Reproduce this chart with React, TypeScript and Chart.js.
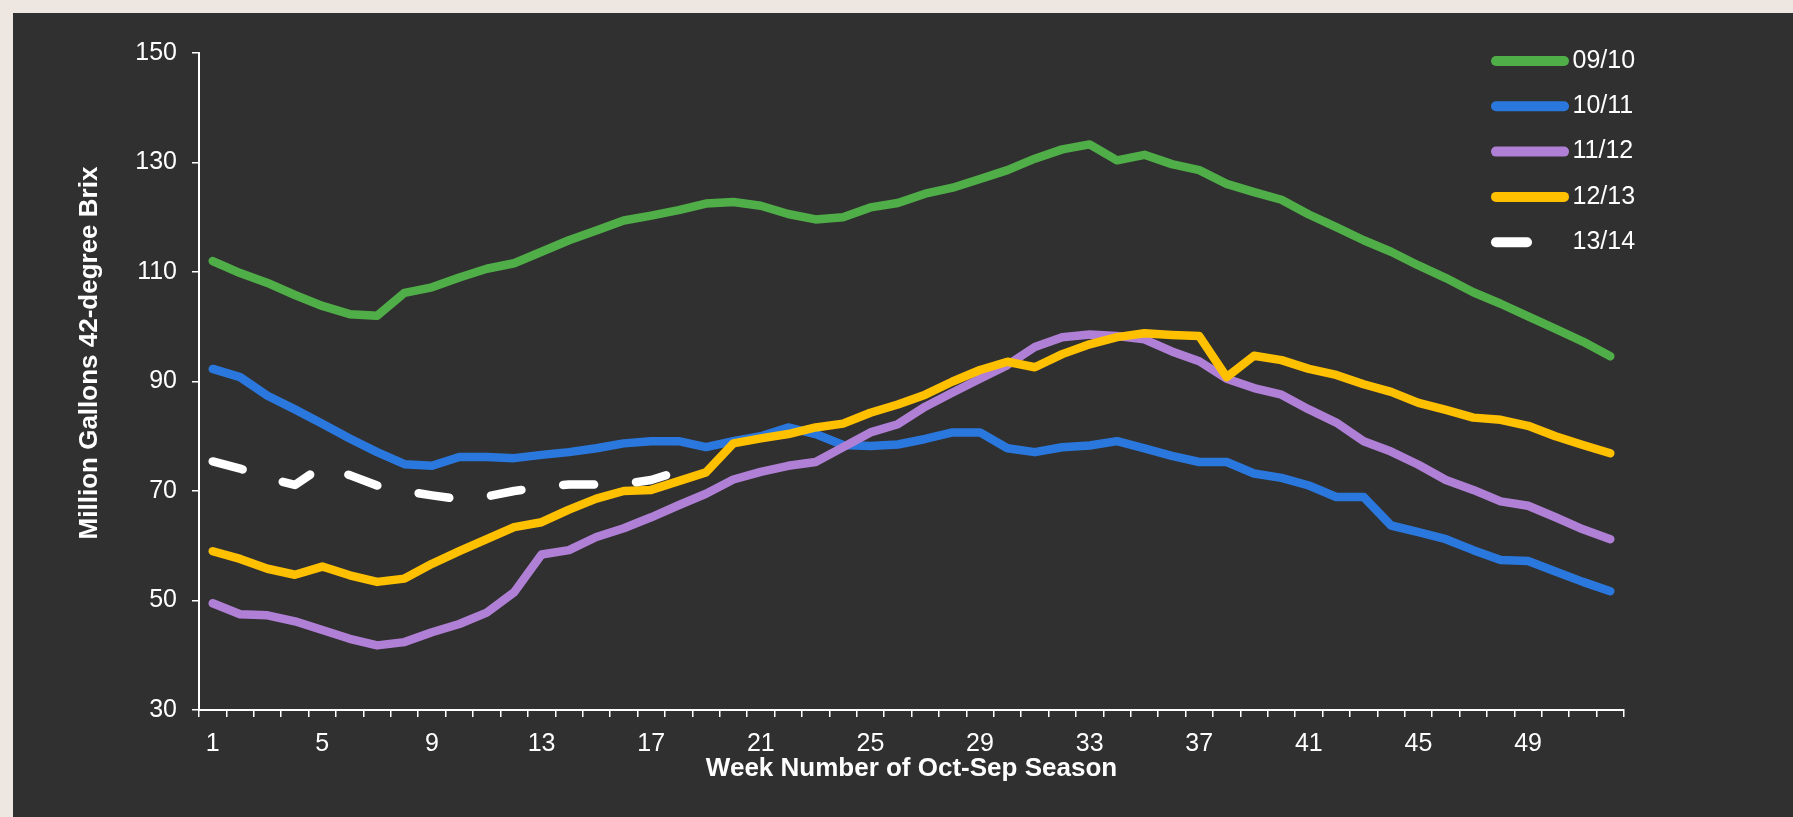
import React, { useEffect, useRef } from 'react';
import { Chart, registerables } from 'chart.js';

Chart.register(...registerables);
Chart.defaults.font.family = "'Liberation Sans', Arial, sans-serif";

// ---- data ----
const weeks = [
  '1', '2', '3', '4', '5', '6', '7', '8', '9', '10', '11', '12', '13',
  '14', '15', '16', '17', '18', '19', '20', '21', '22', '23', '24', '25', '26',
  '27', '28', '29', '30', '31', '32', '33', '34', '35', '36', '37', '38', '39',
  '40', '41', '42', '43', '44', '45', '46', '47', '48', '49', '50', '51', '52',
];
const shownWeekLabels = ['1', '5', '9', '13', '17', '21', '25', '29', '33', '37', '41', '45', '49'];
const yMin = 30;
const yMax = 150;
const yStep = 20;

const seriesNames = ['09/10', '10/11', '11/12', '12/13', '13/14'];
const seriesColors = ['#50AE48', '#2A78DE', '#B07FD6', '#FFC000', '#FFFFFF'];

const s0910 = [
  112.0, 109.8, 108.0, 105.8, 103.8, 102.3, 102.0, 106.2, 107.2, 109.0, 110.6, 111.6, 113.7,
  115.8, 117.6, 119.4, 120.3, 121.3, 122.5, 122.8, 122.1, 120.6, 119.6, 120.0, 121.8, 122.6,
  124.3, 125.4, 127.0, 128.6, 130.7, 132.4, 133.3, 130.4, 131.4, 129.7, 128.6, 126.1, 124.6,
  123.2, 120.5, 118.2, 115.8, 113.7, 111.2, 108.9, 106.3, 104.2, 101.9, 99.6, 97.3, 94.6,
];
const s1011 = [
  92.3, 90.8, 87.4, 84.9, 82.3, 79.6, 77.1, 74.9, 74.6, 76.2, 76.2, 76.0, 76.6,
  77.1, 77.8, 78.7, 79.1, 79.1, 78.0, 79.1, 80.0, 81.6, 80.4, 78.4, 78.2, 78.5,
  79.5, 80.7, 80.7, 77.8, 77.1, 78.0, 78.3, 79.1, 77.8, 76.4, 75.3, 75.3, 73.2,
  72.4, 71.0, 68.9, 68.9, 63.7, 62.5, 61.2, 59.2, 57.4, 57.2, 55.3, 53.4, 51.7,
];
const s1112 = [
  49.5, 47.5, 47.3, 46.2, 44.6, 43.0, 41.8, 42.4, 44.2, 45.7, 47.8, 51.5, 58.4,
  59.2, 61.6, 63.2, 65.2, 67.4, 69.5, 72.1, 73.5, 74.6, 75.3, 78.0, 80.7, 82.2,
  85.4, 88.0, 90.5, 93.0, 96.3, 98.1, 98.6, 98.3, 97.7, 95.5, 93.7, 90.5, 88.8,
  87.6, 84.9, 82.5, 79.1, 77.2, 74.8, 72.0, 70.2, 68.1, 67.3, 65.2, 63.0, 61.2,
];
const s1213 = [
  59.0, 57.6, 55.8, 54.7, 56.2, 54.6, 53.4, 54.0, 56.7, 59.0, 61.2, 63.4, 64.3,
  66.6, 68.6, 70.0, 70.2, 71.8, 73.4, 78.7, 79.6, 80.4, 81.6, 82.3, 84.3, 85.8,
  87.6, 90.0, 92.1, 93.6, 92.6, 95.0, 96.8, 98.1, 98.8, 98.5, 98.3, 90.8, 94.7,
  93.9, 92.3, 91.2, 89.5, 88.1, 86.1, 84.8, 83.4, 83.0, 81.9, 80.0, 78.4, 76.9,
];
const s1314 = [
  75.4, 74.1, 72.4, 71.1, 74.5, 72.9, 71.0, 70.0, 69.2, 68.5, 69.0, 70.0, 70.7,
  71.2, 71.2, 71.3, 72.0, 73.6,
];

const seriesData = [s0910, s1011, s1112, s1213, s1314];

const xTitle = 'Week Number of Oct-Sep Season';
const yTitle = 'Million Gallons 42-degree Brix';

// ---- styles ----
const FONT = "'Liberation Sans', Arial, sans-serif";
const dashPattern = [31, 42];

const overlayPlugin = {
  id: 'overlay',
  afterDraw(chart: any) {
    const ctx = chart.ctx as CanvasRenderingContext2D;
    // y axis title
    ctx.save();
    ctx.translate(77, 340);
    ctx.rotate(-Math.PI / 2);
    ctx.font = `bold 26px ${FONT}`;
    ctx.fillStyle = '#FFFFFF';
    ctx.textAlign = 'center';
    ctx.textBaseline = 'middle';
    ctx.fillText(yTitle, 0, 0);
    ctx.restore();

    // legend
    chart.data.datasets.forEach((ds: any, i: number) => {
      const y = 48 + i * 45.3;
      ctx.save();
      ctx.strokeStyle = ds.borderColor;
      ctx.lineWidth = 10;
      ctx.lineCap = 'round';
      ctx.setLineDash(ds.borderDash || []);
      ctx.beginPath();
      ctx.moveTo(1483, y);
      ctx.lineTo(1551, y);
      ctx.stroke();
      ctx.setLineDash([]);
      ctx.fillStyle = '#FFFFFF';
      ctx.font = `25px ${FONT}`;
      ctx.textAlign = 'left';
      ctx.textBaseline = 'middle';
      ctx.fillText(ds.label, 1559.5, y);
      ctx.restore();
    });
  },
};

export default function App() {
  const ref = useRef<HTMLCanvasElement>(null);

  useEffect(() => {
    document.body.style.margin = '0';
    const canvas = ref.current;
    if (!canvas) return;

    const datasets = seriesNames.map((name, i) => ({
      label: name,
      data: seriesData[i],
      borderColor: seriesColors[i],
      backgroundColor: seriesColors[i],
      borderWidth: 8.5,
      pointRadius: 0,
      pointHoverRadius: 0,
      tension: 0,
      fill: false,
      borderCapStyle: 'round' as const,
      borderJoinStyle: 'round' as const,
      borderDash: i === 4 ? dashPattern : [],
      order: seriesNames.length - 1 - i,
    }));

    const chart = new Chart(canvas, {
      type: 'line',
      data: { labels: weeks, datasets },
      options: {
        responsive: false,
        animation: false,
        devicePixelRatio: 1,
        layout: { padding: { top: 40, right: 169, left: 0, bottom: 0 } },
        plugins: {
          legend: { display: false },
          tooltip: { enabled: false },
        },
        scales: {
          x: {
            type: 'category',
            offset: true,
            grid: {
              display: true,
              offset: true,
              drawOnChartArea: false,
              drawTicks: true,
              tickLength: 7,
              color: '#FFFFFF',
              lineWidth: 1.5,
            },
            border: { display: true, color: '#FFFFFF', width: 2 },
            ticks: {
              autoSkip: false,
              maxRotation: 0,
              minRotation: 0,
              color: '#FFFFFF',
              font: { size: 25 },
              padding: 12,
              callback: (_v: any, i: number) =>
                shownWeekLabels.includes(weeks[i]) ? weeks[i] : '',
            },
            title: {
              display: true,
              text: xTitle,
              color: '#FFFFFF',
              font: { size: 26, weight: 'bold' },
              padding: { top: 0, bottom: 33 },
            },
            afterFit: (s: any) => {
              s.height = 107;
            },
          },
          y: {
            min: yMin,
            max: yMax,
            ticks: {
              stepSize: yStep,
              color: '#FFFFFF',
              font: { size: 25 },
              padding: 15,
            },
            grid: {
              drawOnChartArea: false,
              drawTicks: true,
              tickLength: 7,
              color: '#FFFFFF',
              lineWidth: 1.5,
            },
            border: { display: true, color: '#FFFFFF', width: 2 },
            afterFit: (s: any) => {
              s.width = 186;
            },
          },
        },
      },
      plugins: [overlayPlugin],
    } as any);

    return () => chart.destroy();
  }, []);

  return (
    <div
      style={{
        position: 'fixed',
        left: 0,
        top: 0,
        width: 1793,
        height: 817,
        background: '#EEE6E0',
        overflow: 'hidden',
      }}
    >
      <div
        style={{
          position: 'absolute',
          left: 13,
          top: 13,
          width: 1780,
          height: 804,
          background: '#303030',
        }}
      >
        <canvas
          ref={ref}
          width={1780}
          height={804}
          style={{ display: 'block', width: 1780, height: 804 }}
        />
      </div>
    </div>
  );
}
